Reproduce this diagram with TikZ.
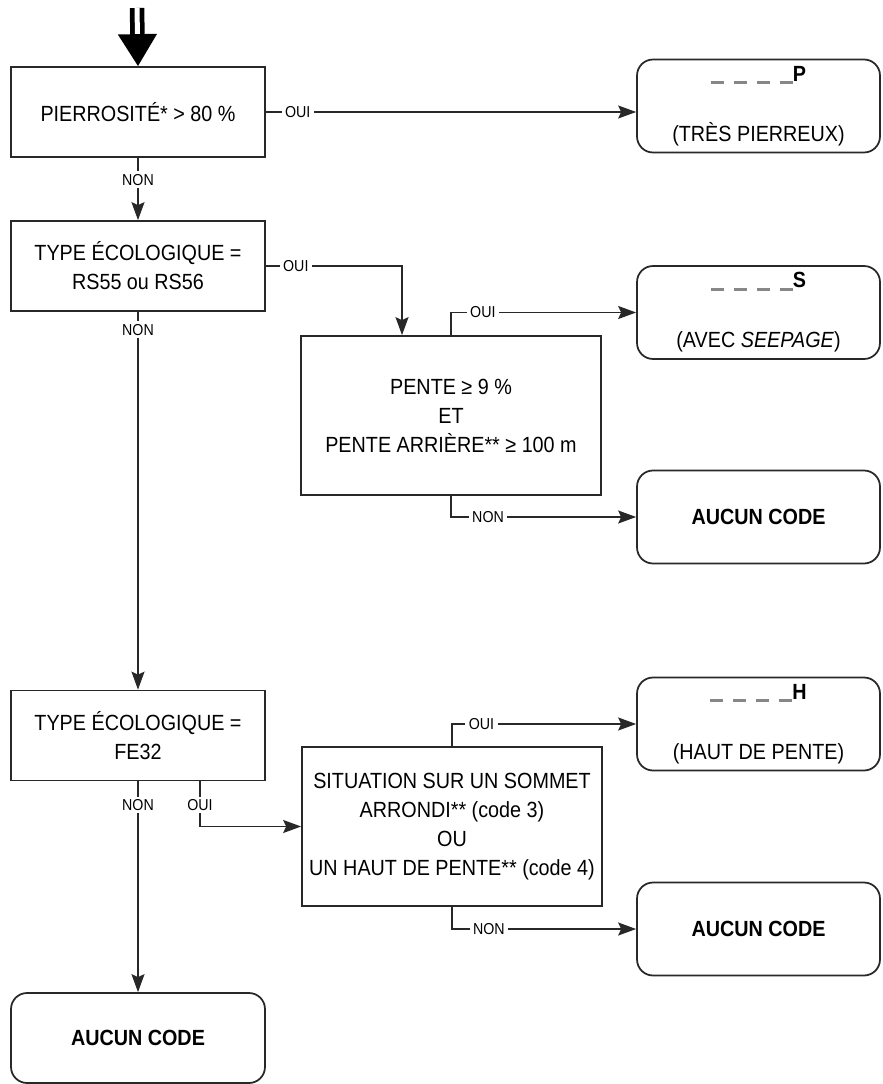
\documentclass[tikz,border=0pt]{standalone}
\usepackage{fontspec}
\setmainfont{Liberation Sans}[FakeStretch=0.9]
\usetikzlibrary{arrows.meta,positioning}
\definecolor{lineGray}{RGB}{40,40,40}
\definecolor{dashGray}{RGB}{135,135,135}
\newcommand\dashbit{\rule[-1.5pt]{0.26cm}{1.5pt}}
\newcommand\blankcode[1]{\textcolor{dashGray}{\dashbit\hspace{0.2cm}\dashbit\hspace{0.2cm}\dashbit\hspace{0.2cm}\dashbit}\textbf{#1}}

\begin{document}
\begin{tikzpicture}[x=0.02cm,y=-0.02cm,
  test/.style={rectangle,draw=lineGray,line width=1pt,minimum width=5.08cm,minimum height=1.8cm,
               align=center,inner sep=0pt,font=\fontsize{12.5}{16.5}\selectfont},
  wide/.style={test,minimum width=6cm,minimum height=3.18cm},
  result/.style={test,rounded corners=0.32cm,minimum width=4.86cm,minimum height=1.86cm},
  flow/.style={-{Stealth[length=0.36cm,width=0.26cm,inset=0.06cm]},line width=0.9pt,draw=lineGray},
  tag/.style={fill=white,inner xsep=2pt,inner ysep=1.5pt,font=\fontsize{9}{10}\selectfont},
  entry/.style={-{Triangle[length=0.64cm,width=0.76cm]},double,line width=0.095cm,double distance=0.1cm}
]
  \useasboundingbox (0,0) rectangle (882,1084);
  \coordinate (in) at (137,8);
  \node[test](b1) at (138,112)   {PIERROSITÉ* > 80 \%};
  \node[test](b2) at (138,266)   {TYPE ÉCOLOGIQUE =\\RS55 ou RS56};
  \node[wide](b3) at (451,415.5) {PENTE ≥ 9 \%\\ET\\PENTE ARRIÈRE** ≥ 100 m};
  \node[test](b4) at (138,735.5) {TYPE ÉCOLOGIQUE =\\FE32};
  \node[wide](b5) at (452,826.5) {SITUATION SUR UN SOMMET\\ARRONDI** (code 3)\\OU\\UN HAUT DE PENTE** (code 4)};
  \node[result](p)  at (758.5,106)   {\blankcode{P}\\[0.62cm](TRÈS PIERREUX)};
  \node[result](s)  at (758.5,312.5) {\blankcode{S}\\[0.62cm](AVEC \textit{SEEPAGE})};
  \node[result](a1) at (758.5,517)   {\textbf{AUCUN CODE}};
  \node[result](h)  at (758.5,724)   {\blankcode{H}\\[0.62cm](HAUT DE PENTE)};
  \node[result](a2) at (758.5,929)   {\textbf{AUCUN CODE}};
  \node[result,minimum width=5.08cm,minimum height=1.8cm](a3) at (138,1038) {\textbf{AUCUN CODE}};

  \draw[entry](in)--(b1.north);
  \draw[flow](b1.east)--node[tag,pos=0.086]{OUI}(b1.east -| p.west);
  \draw[flow](b1.south)--node[tag,pos=0.35]{NON}(b2.north);
  \draw[flow](b2.east)-|node[tag,pos=0.11]{OUI}([xshift=-0.98cm]b3.north);
  \draw[flow](b2.south)--node[tag,pos=0.047]{NON}(b4.north);
  \draw[flow](b3.north)|-node[tag,pos=0.586]{OUI}(s.west);
  \draw[flow](b3.south)|-node[tag,pos=0.6]{NON}(a1.west);
  \draw[flow](b4.south)--node[tag,pos=0.113]{NON}(a3.north);
  \draw[flow]([xshift=1.24cm]b4.south)|-node[tag,pos=0.26]{OUI}(b5.west);
  \draw[flow](b5.north)|-node[tag,pos=0.58]{OUI}(h.west);
  \draw[flow](b5.south)|-node[tag,pos=0.6]{NON}(a2.west);
\end{tikzpicture}
\end{document}
